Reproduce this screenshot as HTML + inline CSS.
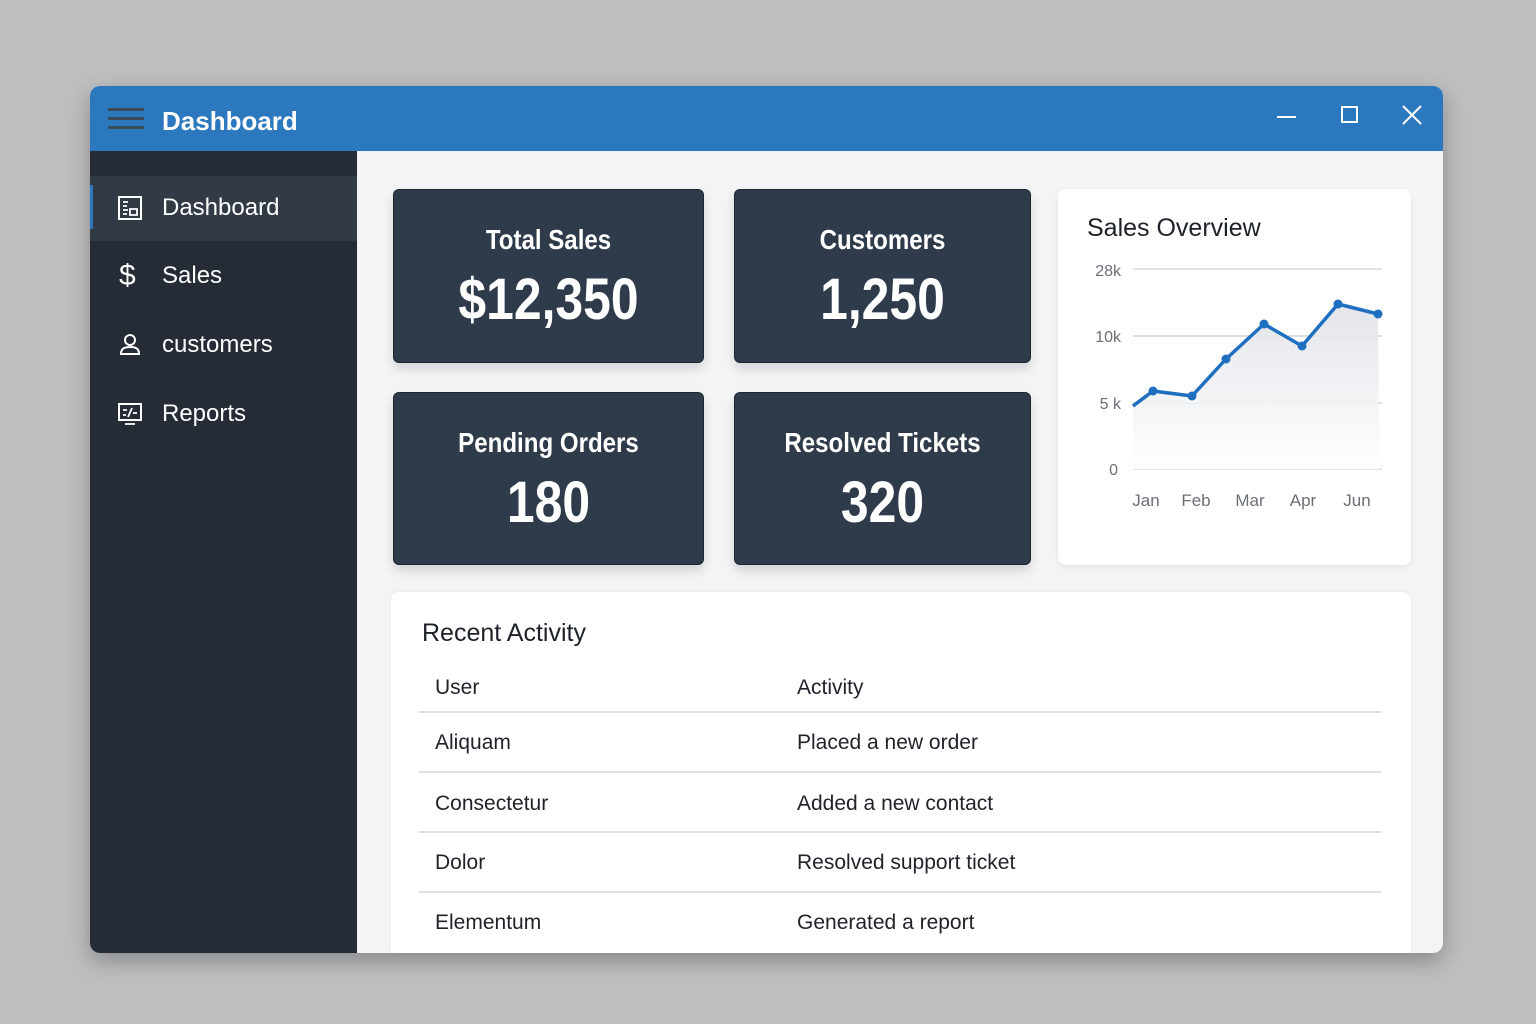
<!DOCTYPE html>
<html><head><meta charset="utf-8"><style>
*{margin:0;padding:0;box-sizing:border-box}
body{width:1536px;height:1024px;background:#bdbec0;font-family:"Liberation Sans",sans-serif;position:relative;overflow:hidden}
.abs{position:absolute}
#win{left:90px;top:86px;width:1353px;height:867px;border-radius:10px;overflow:hidden;box-shadow:0 8px 22px rgba(0,0,0,.28);background:#f3f4f6}
#tb{left:0;top:0;width:1353px;height:65px;background:#2c78bf}
#sb{left:0;top:65px;width:267px;height:802px;background:#262c36}
.nav{position:absolute;left:0;width:267px;height:64px;color:#fff;font-size:24px;line-height:64px}
.nav span{position:absolute;left:72px;top:0}
.card{position:absolute;background:#2f3b4b;border:1px solid #1e2630;border-radius:6px;box-shadow:0 6px 10px rgba(0,0,0,.13);color:#fff;text-align:center}
.card .t{position:absolute;left:0;right:0;font-size:28px;font-weight:bold;transform:scaleX(.86)}
.card .v{position:absolute;left:0;right:0;font-size:58px;font-weight:bold;transform:scaleX(.86)}
.wcard{position:absolute;background:#fff;border-radius:8px;box-shadow:0 2px 6px rgba(0,0,0,.07)}
.row{position:absolute;font-size:21px;color:#1f2329;line-height:26px}
.hl{position:absolute;left:419px;width:962px;height:2px;background:#dedfe2}
</style></head><body>
<div id="win" class="abs">
  <div id="tb" class="abs">
    <div class="abs" style="left:18px;top:22px;width:36px;height:3px;background:#3c4a5a"></div>
    <div class="abs" style="left:18px;top:31px;width:36px;height:3px;background:#3c4a5a"></div>
    <div class="abs" style="left:18px;top:40px;width:36px;height:3px;background:#3c4a5a"></div>
    <div class="abs" style="left:72px;top:18px;color:#fff;font-size:26px;font-weight:bold;line-height:34px">Dashboard</div>
    <div class="abs" style="left:1187px;top:30px;width:19px;height:2px;background:#fff"></div>
    <div class="abs" style="left:1251px;top:20px;width:17px;height:17px;border:2px solid #fff"></div>
    <svg class="abs" style="left:1312px;top:19px" width="20" height="20"><path d="M1 1L19 19M19 1L1 19" stroke="#fff" stroke-width="2"/></svg>
  </div>
  <div id="sb" class="abs">
    <div class="abs" style="left:0;top:25px;width:267px;height:65px;background:#323a45"></div>
    <div class="abs" style="left:0;top:34px;width:3px;height:44px;background:#2c78bf"></div>
    <div class="nav" style="top:25px">
      <svg class="abs" style="left:28px;top:20px" width="24" height="24"><rect x="1" y="1" width="22" height="22" fill="none" stroke="#fff" stroke-width="2"/><path d="M5 6h5M5 10h4M5 14h5M5 18h4M12 13h7v6h-7z" stroke="#fff" stroke-width="1.8" fill="none"/></svg>
      <span>Dashboard</span></div>
    <div class="nav" style="top:93px">
      <div class="abs" style="left:29px;top:0;font-size:30px;line-height:64px">$</div>
      <span>Sales</span></div>
    <div class="nav" style="top:162px">
      <svg class="abs" style="left:28px;top:20px" width="24" height="24"><circle cx="12" cy="7" r="5" fill="none" stroke="#fff" stroke-width="2"/><path d="M3 21c0-6 4-7 9-7s9 1 9 7z" fill="none" stroke="#fff" stroke-width="2"/></svg>
      <span>customers</span></div>
    <div class="nav" style="top:231px">
      <svg class="abs" style="left:28px;top:21px" width="24" height="24"><rect x="1" y="1" width="22" height="16" fill="none" stroke="#fff" stroke-width="2"/><path d="M5 7h4M5 12h3M10 14l4-9M15 10h4M7 21h10" stroke="#fff" stroke-width="1.8" fill="none"/></svg>
      <span>Reports</span></div>
  </div>
</div>

<div class="card" style="left:393px;top:189px;width:311px;height:174px">
  <div class="t" style="top:34px">Total Sales</div>
  <div class="v" style="top:76px">$12,350</div>
</div>
<div class="card" style="left:734px;top:189px;width:297px;height:174px">
  <div class="t" style="top:34px">Customers</div>
  <div class="v" style="top:76px">1,250</div>
</div>
<div class="card" style="left:393px;top:392px;width:311px;height:173px">
  <div class="t" style="top:34px">Pending Orders</div>
  <div class="v" style="top:76px">180</div>
</div>
<div class="card" style="left:734px;top:392px;width:297px;height:173px">
  <div class="t" style="top:34px">Resolved Tickets</div>
  <div class="v" style="top:76px">320</div>
</div>

<div class="wcard" style="left:1058px;top:189px;width:353px;height:376px"></div>
<div class="abs" style="left:1087px;top:212px;font-size:25px;color:#1d2229;line-height:32px">Sales Overview</div>

<div class="wcard" style="left:391px;top:592px;width:1020px;height:361px;border-radius:8px 8px 0 0;box-shadow:0 -1px 4px rgba(0,0,0,.05)"></div>
<div class="abs" style="left:422px;top:617px;font-size:25px;color:#1d2229;line-height:32px">Recent Activity</div>
<div class="row" style="left:435px;top:675px">User</div>
<div class="row" style="left:797px;top:675px">Activity</div>
<div class="hl" style="top:711px"></div>
<div class="row" style="left:435px;top:730px">Aliquam</div>
<div class="row" style="left:797px;top:730px">Placed a new order</div>
<div class="hl" style="top:771px"></div>
<div class="row" style="left:435px;top:791px">Consectetur</div>
<div class="row" style="left:797px;top:791px">Added a new contact</div>
<div class="hl" style="top:831px"></div>
<div class="row" style="left:435px;top:850px">Dolor</div>
<div class="row" style="left:797px;top:850px">Resolved support ticket</div>
<div class="hl" style="top:891px"></div>
<div class="row" style="left:435px;top:910px">Elementum</div>
<div class="row" style="left:797px;top:910px">Generated a report</div>

<svg class="abs" style="left:0;top:0" width="1536" height="1024">
  <defs><linearGradient id="g" x1="0" y1="0" x2="0" y2="1"><stop offset="0" stop-color="#dfe2e7"/><stop offset="1" stop-color="#ffffff"/></linearGradient></defs>
  <g stroke="#d6d8dc" stroke-width="1.5">
    <line x1="1133" y1="269" x2="1382" y2="269"/>
    <line x1="1133" y1="336" x2="1382" y2="336" stroke="#cfd1d5"/>
    <line x1="1133" y1="403" x2="1382" y2="403" stroke="#cfd1d5"/>
    <line x1="1133" y1="469" x2="1382" y2="469"/>
  </g>
  <polygon points="1133,406 1153,391 1192,396 1226,359 1264,324 1302,346 1338,304 1378,314 1380,469 1133,469" fill="url(#g)" opacity=".9"/>
  <polyline points="1133,406 1153,391 1192,396 1226,359 1264,324 1302,346 1338,304 1378,314" fill="none" stroke="#1f6fc0" stroke-width="3.5" stroke-linejoin="round"/>
  <g fill="#1f6fc0">
    <circle cx="1153" cy="391" r="4.5"/><circle cx="1192" cy="396" r="4.5"/><circle cx="1226" cy="359" r="4.5"/>
    <circle cx="1264" cy="324" r="4.5"/><circle cx="1302" cy="346" r="4.5"/><circle cx="1338" cy="304" r="4.5"/><circle cx="1378" cy="314" r="4.5"/>
  </g>
  <g font-family="Liberation Sans, sans-serif" font-size="16" fill="#6b6f76" text-anchor="end">
    <text x="1121" y="276">28k</text>
    <text x="1121" y="342">10k</text>
    <text x="1121" y="409">5 k</text>
    <text x="1118" y="475">0</text>
  </g>
  <g font-family="Liberation Sans, sans-serif" font-size="17" fill="#6b6f76" text-anchor="middle">
    <text x="1146" y="506">Jan</text>
    <text x="1196" y="506">Feb</text>
    <text x="1250" y="506">Mar</text>
    <text x="1303" y="506">Apr</text>
    <text x="1357" y="506">Jun</text>
  </g>
</svg>
</body></html>
